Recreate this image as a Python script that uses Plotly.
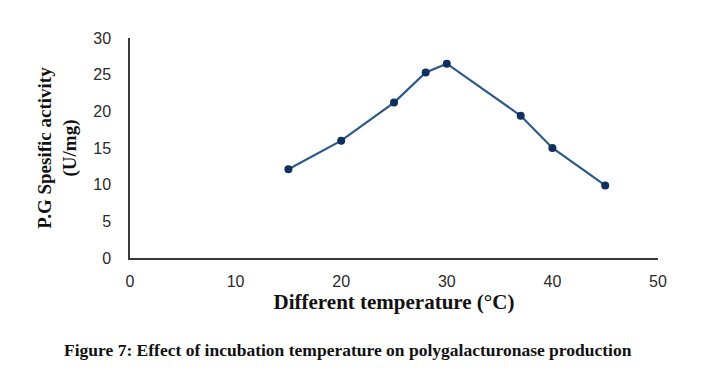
import plotly.graph_objects as go

temperature = [15, 20, 25, 28, 30, 37, 40, 45]
activity = [12.1, 16.0, 21.2, 25.3, 26.5, 19.4, 15.0, 9.9]
x_ticks = [0, 10, 20, 30, 40, 50]
y_ticks = [0, 5, 10, 15, 20, 25, 30]

# page body has an 8px default margin; size figure so it fits in 725x373
W, H = 717, 365
L, R, T, B = 122, 67, 30, 115

fig = go.Figure()
fig.add_trace(go.Scatter(
    x=temperature, y=activity, mode="lines+markers",
    line=dict(color="#2a5a8c", width=2.2),
    marker=dict(color="#0f2f5c", size=8),
    showlegend=False,
))

tick_font = dict(family="Liberation Sans, Arial, sans-serif", size=16, color="#2a2a2a")
serif = "Liberation Serif, Times New Roman, serif"

fig.update_layout(
    width=W, height=H,
    margin=dict(l=L, r=R, t=T, b=B),
    paper_bgcolor="white", plot_bgcolor="white",
    xaxis=dict(
        range=[0, 50], tickvals=x_ticks, ticktext=[str(v) for v in x_ticks],
        showgrid=False, zeroline=False, showline=True, linecolor="#3a3a3a", linewidth=1.5,
        ticks="", tickfont=tick_font, ticklabelstandoff=8,
        title=dict(text="<b>Different temperature (°C)</b>",
                   font=dict(family=serif, size=21, color="#111111"), standoff=0),
    ),
    yaxis=dict(
        range=[0, 30], tickvals=y_ticks, ticktext=[str(v) for v in y_ticks],
        showgrid=False, zeroline=False, showline=True, linecolor="#3a3a3a", linewidth=1.5,
        ticks="", tickfont=tick_font, ticklabelstandoff=14,
        title=dict(text="<b>P.G Spesific activity<br>(U/mg)</b>",
                   font=dict(family=serif, size=19, color="#111111"), standoff=12),
    ),
)

plot_w = W - L - R
plot_h = H - T - B
fig.add_annotation(
    text="<b>Figure 7: Effect of incubation temperature on polygalacturonase production</b>",
    x=(348 - 8 - L) / plot_w, xref="paper", xanchor="center",
    y=(H - B - (350 - 8)) / plot_h, yref="paper", yanchor="middle",
    showarrow=False,
    font=dict(family=serif, size=17.5, color="#111111"),
)

fig.write_html("out.html")
